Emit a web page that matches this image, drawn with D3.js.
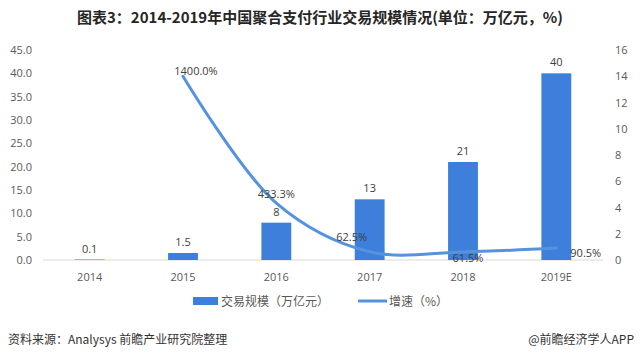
<!DOCTYPE html>
<html><head><meta charset="utf-8">
<script src="https://cdn.jsdelivr.net/npm/d3@7"></script>
<style>
html,body{margin:0;padding:0;background:#fff;}
svg{display:block;font-family:"Noto Sans CJK SC","Noto Sans",sans-serif;}
</style></head>
<body>
<script>
const categories = ["2014","2015","2016","2017","2018","2019E"];
const volume = [0.1, 1.5, 8, 13, 21, 40];
const volumeLabels = ["0.1","1.5","8","13","21","40"];
const growth = [null, 14, 4.333, 0.625, 0.615, 0.905];
const growthLabels = [null, "1400.0%", "433.3%", "62.5%", "61.5%", "90.5%"];
const leftTicks = [0,5,10,15,20,25,30,35,40,45];
const rightTicks = [0,2,4,6,8,10,12,14,16];
const title = "图表3：2014-2019年中国聚合支付行业交易规模情况(单位：万亿元，%)";
const legendNames = ["交易规模（万亿元）","增速（%）"];
const source = "资料来源：Analysys 前瞻产业研究院整理";
const credit = "@前瞻经济学人APP";

// label offsets (style)
const lblOff = [null, {dx:13,dy:-5,a:"middle"},{dx:0,dy:-9,a:"middle"},{dx:-18,dy:-15,a:"middle"},{dx:5,dy:6,a:"middle"},{dx:14,dy:5,a:"start"}];

const W=640,H=361;
const svg=d3.select("body").append("svg").attr("width",W).attr("height",H);
const barColor="#3d7fdb", lineColor="#5693df", txt="#404040", axTxt="#595959";

const x=d3.scaleBand().domain(categories).range([43,603]).paddingInner(0.68).paddingOuter(0.34);
const yL=d3.scaleLinear().domain([0,45]).range([260,50]);
const yR=d3.scaleLinear().domain([0,16]).range([260,50]);

svg.append("text").attr("x",320).attr("y",23).attr("text-anchor","middle")
  .attr("font-size",15).attr("font-weight","bold").attr("fill","#262626").text(title);

// left axis
const gl=svg.append("g").attr("transform","translate(36,0)")
  .call(d3.axisLeft(yL).tickValues(leftTicks).tickFormat(d3.format(".1f")).tickSize(0).tickPadding(4));
gl.select(".domain").remove();
gl.selectAll("text").attr("font-size",11).attr("fill",axTxt).attr("font-family","Open Sans, sans-serif");

const gr=svg.append("g").attr("transform","translate(612,0)")
  .call(d3.axisRight(yR).tickValues(rightTicks).tickSize(0).tickPadding(3));
gr.select(".domain").remove();
gr.selectAll("text").attr("font-size",11).attr("fill",axTxt).attr("font-family","Open Sans, sans-serif");

// baseline
svg.append("line").attr("x1",43).attr("x2",603).attr("y1",yL(0)).attr("y2",yL(0)).attr("stroke","#d9d9d9");

const gx=svg.append("g").attr("transform",`translate(0,${yL(0)})`)
  .call(d3.axisBottom(x).tickSize(0).tickPadding(13));
gx.select(".domain").remove();
gx.selectAll("text").attr("font-size",11).attr("fill",axTxt).attr("font-family","Open Sans, sans-serif");

// bars
svg.selectAll("rect.bar").data(volume).join("rect").attr("class","bar")
  .attr("x",(d,i)=>x(categories[i])).attr("width",x.bandwidth())
  .attr("y",d=>yL(d)).attr("height",d=>yL(0)-yL(d)).attr("fill",barColor);
svg.selectAll("text.bl").data(volume).join("text").attr("class","bl")
  .attr("x",(d,i)=>x(categories[i])+x.bandwidth()/2).attr("y",d=>yL(d)-7)
  .attr("text-anchor","middle").attr("font-size",11).attr("fill",txt)
  .attr("font-family","Open Sans, sans-serif").text((d,i)=>volumeLabels[i]);

// line
const pts=growth.map((v,i)=>({v,c:categories[i],i})).filter(d=>d.v!=null);
const line=d3.line().x(d=>x(d.c)+x.bandwidth()/2).y(d=>yR(d.v)).curve(d3.curveCatmullRom.alpha(0.5));
svg.append("path").datum(pts).attr("d",line).attr("fill","none").attr("stroke",lineColor)
  .attr("stroke-width",3).attr("stroke-linecap","round");
svg.selectAll("text.ll").data(pts).join("text").attr("class","ll")
  .attr("x",d=>x(d.c)+x.bandwidth()/2+lblOff[d.i].dx).attr("y",d=>yR(d.v)+lblOff[d.i].dy+4)
  .attr("text-anchor",d=>lblOff[d.i].a).attr("font-size",11).attr("fill",txt)
  .attr("font-family","Open Sans, sans-serif").text(d=>growthLabels[d.i]);

// legend
const lg=svg.append("g");
lg.append("rect").attr("x",193).attr("y",297).attr("width",25).attr("height",8).attr("fill",barColor);
lg.append("text").attr("x",221).attr("y",306).attr("font-size",12).attr("fill",axTxt).text(legendNames[0]);
lg.append("line").attr("x1",358).attr("x2",387).attr("y1",301).attr("y2",301).attr("stroke",lineColor).attr("stroke-width",3);
lg.append("text").attr("x",389).attr("y",306).attr("font-size",12).attr("fill",axTxt).text(legendNames[1]);

svg.append("text").attr("x",8).attr("y",344).attr("font-size",12).attr("fill","#333").text(source);
svg.append("text").attr("x",634).attr("y",344).attr("text-anchor","end").attr("font-size",12).attr("fill","#333").text(credit);
</script>
</body></html>
